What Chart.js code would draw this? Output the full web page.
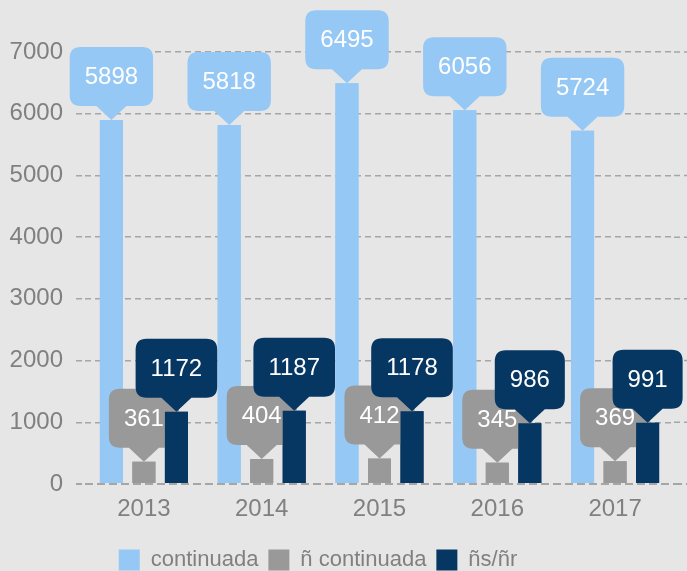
<!DOCTYPE html>
<html>
<head>
<meta charset="utf-8">
<script src="https://cdn.jsdelivr.net/npm/chart.js@4.4.1/dist/chart.umd.min.js"></script>
<style>
  html, body { margin: 0; padding: 0; background: #e6e6e6; }
  #wrap { width: 687px; height: 571px; position: relative; }
</style>
</head>
<body>
<div id="wrap"><canvas id="chart"></canvas></div>
<script>
const years = ["2013", "2014", "2015", "2016", "2017"];
const continuada = [5898, 5818, 6495, 6056, 5724];
const noContinuada = [361, 404, 412, 345, 369];
const nsnr = [1172, 1187, 1178, 986, 991];
const yTicks = [0, 1000, 2000, 3000, 4000, 5000, 6000, 7000];

const FONT = "'Liberation Sans', Arial, sans-serif";
const GRID = "#a6a6a6";
const TEXT = "#808080";

// extend dashed grid lines past the chart area to the right edge
const gridExtend = {
  id: "gridExtend",
  beforeDatasetsDraw(chart) {
    const { ctx, chartArea, scales } = chart;
    ctx.save();
    ctx.strokeStyle = GRID;
    yTicks.forEach(v => {
      const y = scales.y.getPixelForValue(v);
      ctx.lineWidth = v === 0 ? 2 : 1.5;
      ctx.setLineDash(v === 0 ? [8, 4] : [6, 4]);
      ctx.beginPath();
      ctx.moveTo(chartArea.right, y);
      ctx.lineTo(chart.width, y);
      ctx.stroke();
    });
    ctx.restore();
  }
};

// speech bubble labels, drawn series by series so later bars cover earlier bubbles
const bubbles = {
  id: "bubbles",
  afterDatasetsDraw(chart) {
    const { ctx } = chart;
    const boxH = 59, tipH = 14, tipW = 15, r = 11, padX = 15;
    chart.data.datasets.forEach((ds, i) => {
      const meta = chart.getDatasetMeta(i);
      meta.data.forEach(bar => bar.draw(ctx));
      ctx.save();
      ctx.font = "24px " + FONT;
      meta.data.forEach((bar, j) => {
        const txt = String(ds.data[j]);
        const w = ctx.measureText(txt).width + padX * 2;
        const x = bar.x, tipY = bar.y;
        const bottom = tipY - tipH, top = bottom - boxH;
        const left = x - w / 2, right = x + w / 2;
        ctx.fillStyle = ds.backgroundColor;
        ctx.beginPath();
        ctx.moveTo(left + r, top);
        ctx.lineTo(right - r, top);
        ctx.quadraticCurveTo(right, top, right, top + r);
        ctx.lineTo(right, bottom - r);
        ctx.quadraticCurveTo(right, bottom, right - r, bottom);
        ctx.lineTo(x + tipW, bottom);
        ctx.lineTo(x, tipY);
        ctx.lineTo(x - tipW, bottom);
        ctx.lineTo(left + r, bottom);
        ctx.quadraticCurveTo(left, bottom, left, bottom - r);
        ctx.lineTo(left, top + r);
        ctx.quadraticCurveTo(left, top, left + r, top);
        ctx.closePath();
        ctx.fill();
        ctx.fillStyle = "#ffffff";
        ctx.textAlign = "center";
        ctx.textBaseline = "middle";
        ctx.fillText(txt, x, top + boxH / 2 + 1);
      });
      ctx.restore();
    });
  }
};

// nudge the legend a bit left, as in the original
const legendShift = {
  id: "legendShift",
  afterLayout(chart) {
    chart.legend.left -= 19;
    chart.legend.right -= 19;
  }
};

new Chart(document.getElementById("chart"), {
  type: "bar",
  data: {
    labels: years,
    datasets: [
      { label: "continuada", data: continuada, backgroundColor: "#95c8f5" },
      { label: "ñ continuada", data: noContinuada, backgroundColor: "#999999" },
      { label: "ñs/ñr", data: nsnr, backgroundColor: "#063763" },
    ],
  },
  options: {
    responsive: true,
    maintainAspectRatio: false,
    animation: false,
    categoryPercentage: 0.828,
    barPercentage: 0.708,
    layout: { padding: { top: 52, right: 13, bottom: -10, left: 0 } },
    plugins: {
      tooltip: { enabled: false },
      legend: {
        position: "bottom",
        labels: {
          boxWidth: 21,
          boxHeight: 21,
          padding: 10,
          color: TEXT,
          font: { family: FONT, size: 22 },
        },
      },
    },
    scales: {
      x: {
        grid: { display: false },
        border: { display: false },
        ticks: { color: TEXT, font: { family: FONT, size: 24 }, padding: 3 },
        afterFit: scale => { scale.height = 55; },
      },
      y: {
        min: 0,
        max: 7000,
        afterBuildTicks: scale => { scale.ticks = yTicks.map(v => ({ value: v })); },
        ticks: {
          color: TEXT,
          font: { family: FONT, size: 24 },
          padding: 13,
          callback: v => String(v),
        },
        grid: {
          color: GRID,
          lineWidth: c => (c.tick && c.tick.value === 0 ? 2 : 1.5),
          drawTicks: true,
          tickLength: 9,
          tickColor: GRID,
          tickBorderDash: [6, 4],
        },
        border: {
          display: false,
          dash: c => (c.tick && c.tick.value === 0 ? [8, 4] : [6, 4]),
        },
        afterFit: scale => { scale.width = 85; },
      },
    },
  },
  plugins: [gridExtend, bubbles, legendShift],
});
</script>
</body>
</html>
